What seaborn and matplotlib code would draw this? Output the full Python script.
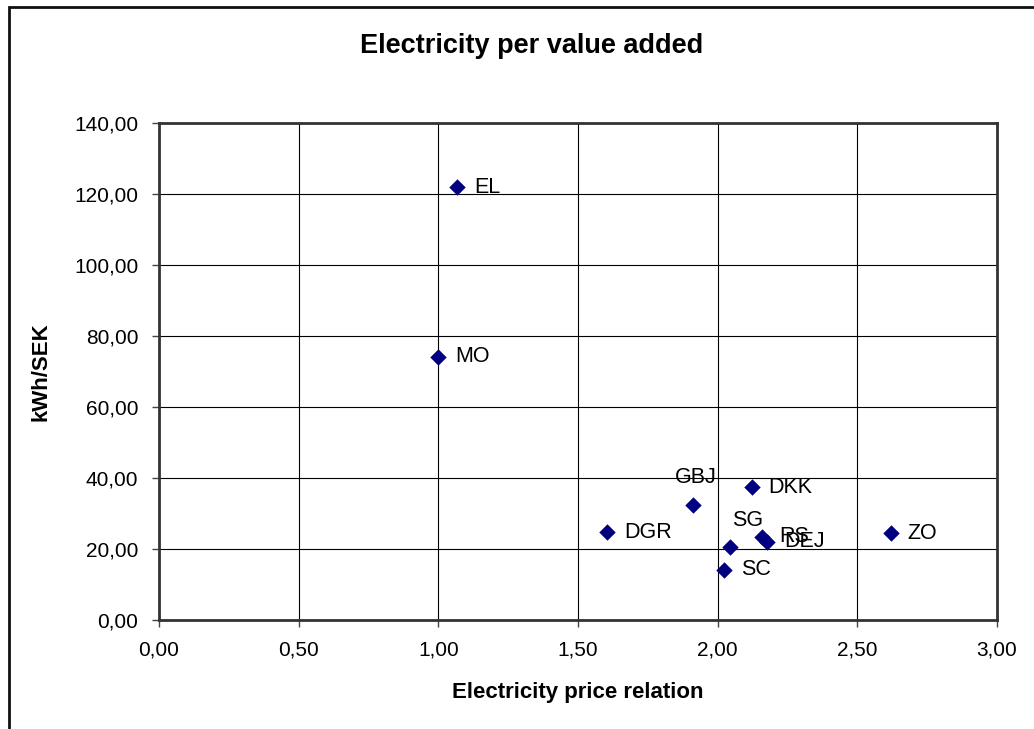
import pandas as pd
import seaborn as sns
import matplotlib.pyplot as plt
from matplotlib.patches import Rectangle
from matplotlib.ticker import FixedLocator, FuncFormatter

# Values
names = ['EL', 'MO', 'GBJ', 'DKK', 'DGR', 'SG', 'SC', 'RS', 'DEJ', 'ZO']
price_relation = [1.066, 1.00, 1.913, 2.122, 1.605, 2.044, 2.022, 2.158, 2.176, 2.62]
kwh_per_sek = [121.9, 74.2, 32.4, 37.4, 24.7, 20.5, 14.1, 23.5, 22.1, 24.4]

x_ticks = [0.0, 0.5, 1.0, 1.5, 2.0, 2.5, 3.0]
y_ticks = [0, 20, 40, 60, 80, 100, 120, 140]

df = pd.DataFrame({'name': names, 'x': price_relation, 'y': kwh_per_sek})

sns.set_style('white', {'text.color': 'black', 'axes.labelcolor': 'black',
                        'xtick.color': 'black', 'ytick.color': 'black'})
plt.rcParams['font.family'] = ['Liberation Sans', 'DejaVu Sans']

fig = plt.figure(figsize=(10.34, 7.29), dpi=100)
ax = fig.add_axes([159 / 1034, 1 - 620 / 729, (997 - 159) / 1034, (620 - 123) / 729])

sns.scatterplot(data=df, x='x', y='y', marker='D', s=70, color='#000080',
                edgecolor='#000080', linewidth=0, ax=ax, zorder=5, clip_on=False)

# label placement (offset in pixels from the marker)
offsets = {'GBJ': (2, 27, 'center'), 'SG': (18, 27, 'center')}
for n, xv, yv in zip(names, price_relation, kwh_per_sek):
    dx, dy, ha = offsets.get(n, (17, 0, 'left'))
    ax.annotate(n, (xv, yv), xytext=(dx, dy), textcoords='offset pixels',
                ha=ha, va='center', fontsize=15.5, color='black', zorder=6)

ax.set_xlim(0, 3)
ax.set_ylim(0, 140)
ax.xaxis.set_major_locator(FixedLocator(x_ticks))
ax.yaxis.set_major_locator(FixedLocator(y_ticks))
fmt = FuncFormatter(lambda v, p: f'{v:.2f}'.replace('.', ','))
ax.xaxis.set_major_formatter(fmt)
ax.yaxis.set_major_formatter(fmt)
ax.tick_params(axis='both', direction='out', length=5, width=1, color='#444444',
               labelcolor='black', labelsize=15, pad=10, bottom=True, left=True)
ax.grid(True, color='black', linewidth=0.8)
ax.set_axisbelow(True)
for sp in ax.spines.values():
    sp.set_visible(True)
    sp.set_color('#333333')
    sp.set_linewidth(2)

ax.set_xlabel('Electricity price relation', fontsize=16, fontweight='bold',
              labelpad=16, color='black')
ax.set_ylabel('kWh/SEK', fontsize=16, fontweight='bold', labelpad=16, color='black')

fig.text(532 / 1034, 1 - 46 / 729, 'Electricity per value added', ha='center', va='center',
         fontsize=19.5, fontweight='bold', color='black')

# chart area border (only top and left visible in the reference)
fig.patches.append(Rectangle((9 / 1034, -0.1), 1.2, 1 - 7 / 729 + 0.1,
                             transform=fig.transFigure, fill=False,
                             edgecolor='#111111', linewidth=2))

fig.savefig('out.png', dpi=100)
